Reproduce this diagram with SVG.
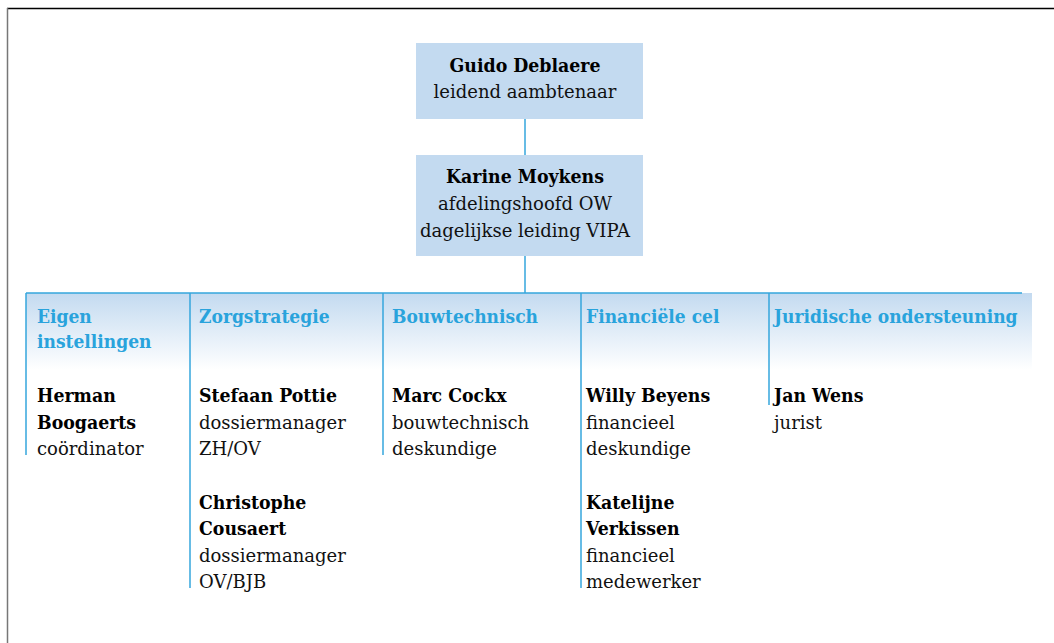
<svg xmlns="http://www.w3.org/2000/svg" width="1054" height="643" viewBox="0 0 1054 643">
<defs>
<linearGradient id="band" x1="0" y1="0" x2="0" y2="1">
<stop offset="0" stop-color="#c3daf0"/>
<stop offset="1" stop-color="#ffffff"/>
</linearGradient>
<style>
.box{fill:#c3daf0}
.ln{stroke:#35a6dc;stroke-width:1.5;fill:none}
.t{font-family:"DejaVu Serif",serif;font-size:18px;fill:#111}
.b{font-family:"DejaVu Serif Condensed","DejaVu Serif",serif;font-weight:bold;font-size:19.3px;fill:#000}
.h{font-family:"DejaVu Serif Condensed","DejaVu Serif",serif;font-weight:bold;font-size:19px;fill:#29a3dc}
.c{text-anchor:middle}
</style>
</defs>
<rect width="1054" height="643" fill="#fff"/>
<line x1="7" y1="8.5" x2="1054" y2="8.5" stroke="#000" stroke-width="1.5"/>
<line x1="7.5" y1="8" x2="7.5" y2="643" stroke="#777" stroke-width="1.5"/>
<rect x="26" y="293" width="1006" height="77" fill="url(#band)"/>
<g id="connectors">
<line class="ln" x1="525" y1="119" x2="525" y2="155"/>
<line class="ln" x1="525" y1="256" x2="525" y2="293"/>
<line class="ln" x1="26" y1="293" x2="1022" y2="293"/>
<line class="ln" x1="26" y1="293" x2="26" y2="455"/>
<line class="ln" x1="190" y1="293" x2="190" y2="588"/>
<line class="ln" x1="383" y1="293" x2="383" y2="455"/>
<line class="ln" x1="581" y1="293" x2="581" y2="588"/>
<line class="ln" x1="769" y1="293" x2="769" y2="405"/>
</g>
<g id="guido">
<rect class="box" x="416" y="43" width="227" height="76"/>
<text class="b c" x="525" y="72">Guido Deblaere</text>
<text class="t c" x="525" y="98">leidend aambtenaar</text>
</g>
<g id="karine">
<rect class="box" x="416" y="155" width="227" height="101"/>
<text class="b c" x="525" y="183">Karine Moykens</text>
<text class="t c" x="525" y="210">afdelingshoofd OW</text>
<text class="t c" x="525" y="237">dagelijkse leiding VIPA</text>
</g>
<g id="eigen">
<text class="h" x="37" y="323">Eigen</text>
<text class="h" x="37" y="348">instellingen</text>
<text class="b" x="37" y="402">Herman</text>
<text class="b" x="37" y="429">Boogaerts</text>
<text class="t" x="37" y="455">coördinator</text>
</g>
<g id="zorg">
<text class="h" x="199" y="323">Zorgstrategie</text>
<text class="b" x="199" y="402">Stefaan Pottie</text>
<text class="t" x="199" y="429">dossiermanager</text>
<text class="t" x="199" y="455">ZH/OV</text>
<text class="b" x="199" y="509">Christophe</text>
<text class="b" x="199" y="535">Cousaert</text>
<text class="t" x="199" y="562">dossiermanager</text>
<text class="t" x="199" y="588">OV/BJB</text>
</g>
<g id="bouw">
<text class="h" x="392" y="323">Bouwtechnisch</text>
<text class="b" x="392" y="402">Marc Cockx</text>
<text class="t" x="392" y="429">bouwtechnisch</text>
<text class="t" x="392" y="455">deskundige</text>
</g>
<g id="fin">
<text class="h" x="586" y="323">Financiële cel</text>
<text class="b" x="586" y="402">Willy Beyens</text>
<text class="t" x="586" y="429">financieel</text>
<text class="t" x="586" y="455">deskundige</text>
<text class="b" x="586" y="509">Katelijne</text>
<text class="b" x="586" y="535">Verkissen</text>
<text class="t" x="586" y="562">financieel</text>
<text class="t" x="586" y="588">medewerker</text>
</g>
<g id="jur">
<text class="h" x="774" y="323">Juridische ondersteuning</text>
<text class="b" x="774" y="402">Jan Wens</text>
<text class="t" x="774" y="429">jurist</text>
</g>
</svg>
